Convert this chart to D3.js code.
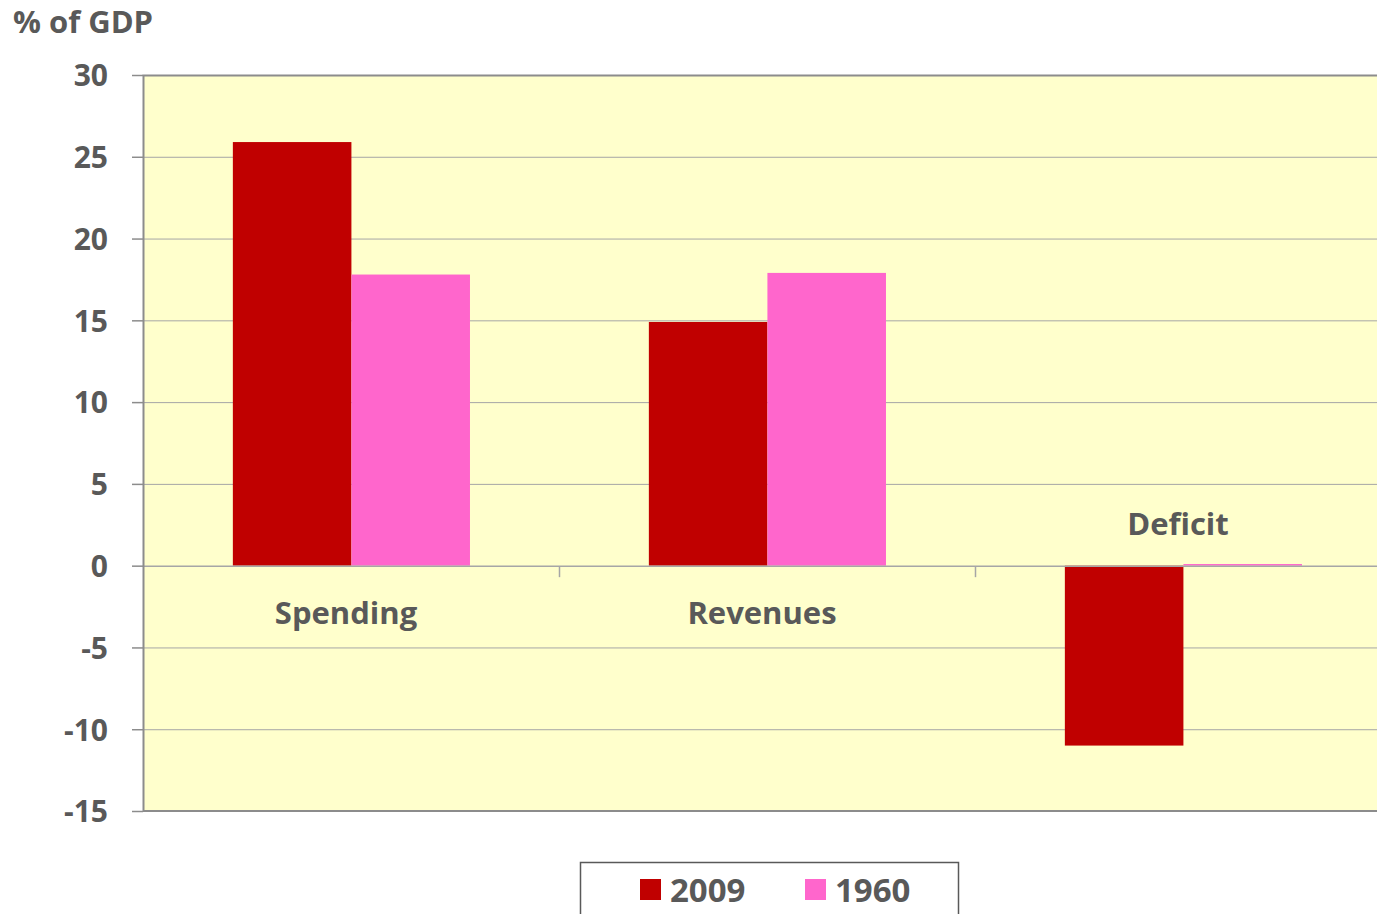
<!DOCTYPE html>
<html>
<head>
<meta charset="utf-8">
<script src="https://cdn.jsdelivr.net/npm/d3@7"></script>
<style>
  body { margin: 0; background: #fff; }
  text { font-family: "Open Sans", Lato, sans-serif; font-weight: bold; fill: #595959; }
</style>
</head>
<body>
<div id="chart"></div>
<script>
// chart data
var categories = ["Spending", "Revenues", "Deficit"];
var seriesNames = ["2009", "1960"];
var values2009 = [25.9, 14.9, -11.0];
var values1960 = [17.8, 17.9, 0.1];
var yTicks = [-15, -10, -5, 0, 5, 10, 15, 20, 25, 30];

var colors = { "2009": "#C00000", "1960": "#FF66CC" };

var svgWidth = 1377;
var svgHeight = 914;

// plot area (right edge runs past the window, as in the original)
var margin = { top: 75, left: 143 };
var chartWidth = 1248;
var chartHeight = 736;

var svg = d3.select("#chart")
  .append("svg")
  .attr("width", svgWidth)
  .attr("height", svgHeight);

var chartGroup = svg.append("g")
  .attr("transform", `translate(${margin.left}, ${margin.top})`);

// scales
var xScale = d3.scaleBand()
  .domain(categories)
  .range([0, chartWidth])
  .padding(0);

var bw = xScale.bandwidth();
var xSeries = d3.scaleBand()
  .domain(seriesNames)
  .range([bw * 0.216, bw * 0.786])
  .padding(0);

var yScale = d3.scaleLinear()
  .domain([-15, 30])
  .range([chartHeight, 0]);

// plot background
chartGroup.append("rect")
  .attr("width", chartWidth)
  .attr("height", chartHeight)
  .attr("fill", "#FFFFCC");

// gridlines
chartGroup.append("g")
  .selectAll("line")
  .data(yTicks.filter(d => d !== -15 && d !== 30 && d !== 0))
  .enter()
  .append("line")
  .attr("x1", 0)
  .attr("x2", chartWidth)
  .attr("y1", d => yScale(d) + 0.5)
  .attr("y2", d => yScale(d) + 0.5)
  .attr("stroke", "#a6a6a6")
  .attr("stroke-width", 1);

// bars
var rows = categories.map((c, i) => ({ cat: c, vals: [values2009[i], values1960[i]] }));

var barGroups = chartGroup.selectAll(".cat")
  .data(rows)
  .enter()
  .append("g")
  .attr("transform", d => `translate(${xScale(d.cat)}, 0)`);

barGroups.selectAll("rect")
  .data(d => d.vals.map((v, j) => ({ name: seriesNames[j], value: v })))
  .enter()
  .append("rect")
  .attr("x", d => xSeries(d.name))
  .attr("width", xSeries.bandwidth())
  .attr("y", d => yScale(Math.max(0, d.value)))
  .attr("height", d => Math.abs(yScale(d.value) - yScale(0)))
  .attr("fill", d => colors[d.name]);

// zero line with category tick marks
var zeroY = yScale(0) + 0.5;
chartGroup.append("line")
  .attr("x1", 0)
  .attr("x2", chartWidth)
  .attr("y1", zeroY)
  .attr("y2", zeroY)
  .attr("stroke", "#a6a6a6")
  .attr("stroke-width", 1.5);

chartGroup.append("g")
  .selectAll("line")
  .data(categories.slice(1))
  .enter()
  .append("line")
  .attr("x1", d => xScale(d) + 0.5)
  .attr("x2", d => xScale(d) + 0.5)
  .attr("y1", zeroY)
  .attr("y2", zeroY + 11)
  .attr("stroke", "#a6a6a6")
  .attr("stroke-width", 1.5);

// plot border: top, left, bottom
chartGroup.append("path")
  .attr("d", `M${chartWidth},0.5H0.5V${chartHeight}H${chartWidth}`)
  .attr("fill", "none")
  .attr("stroke", "#8c8c8c")
  .attr("stroke-width", 2);

// y axis
var leftAxis = d3.axisLeft(yScale)
  .tickValues(yTicks)
  .tickSize(11)
  .tickPadding(24)
  .tickFormat(d => String(d));

var yAxis = chartGroup.append("g").call(leftAxis);
yAxis.select(".domain").remove();
yAxis.selectAll("line").attr("stroke", "#8c8c8c").attr("stroke-width", 1.5);
yAxis.selectAll("text")
  .attr("font-size", "30px")
  .attr("font-family", null)
  .attr("fill", null)
  .attr("dy", "0.36em");

// category labels
chartGroup.selectAll(".catLabel")
  .data(rows)
  .enter()
  .append("text")
  .attr("x", d => xScale(d.cat) + bw / 2 - 5)
  .attr("y", d => d.vals[0] < 0 ? yScale(0) - 31 : yScale(0) + 58)
  .attr("text-anchor", "middle")
  .attr("font-size", "31px")
  .text(d => d.cat);

// y axis title
svg.append("text")
  .attr("x", 13)
  .attr("y", 33)
  .attr("font-size", "31px")
  .text("% of GDP");

// legend
var legend = svg.append("g");
legend.append("rect")
  .attr("x", 580.5)
  .attr("y", 862.5)
  .attr("width", 378)
  .attr("height", 80)
  .attr("fill", "#fff")
  .attr("stroke", "#595959")
  .attr("stroke-width", 1.5);

var legendX = [640, 805];
seriesNames.forEach(function(name, i) {
  legend.append("rect")
    .attr("x", legendX[i])
    .attr("y", 879)
    .attr("width", 21)
    .attr("height", 21)
    .attr("fill", colors[name]);
  legend.append("text")
    .attr("x", legendX[i] + 30)
    .attr("y", 902)
    .attr("font-size", "33px")
    .text(name);
});
</script>
</body>
</html>
